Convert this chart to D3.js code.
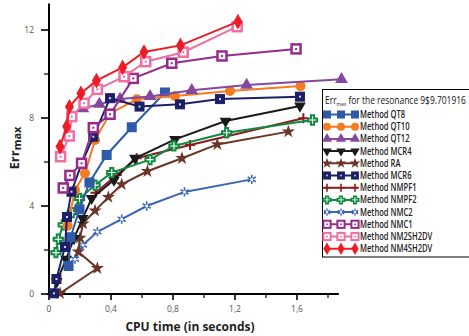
<!DOCTYPE html>
<html>
<head>
<meta charset="utf-8">
<script src="https://cdn.jsdelivr.net/npm/d3@7"></script>
<style>
  body { margin: 0; background: #fff; }
  svg { font-family: "Open Sans", "DejaVu Sans", sans-serif; }
</style>
</head>
<body>
<div id="chart"></div>
<script>
// series data: [CPU time (s), Err max]
const qt8 = [[0.126, 1.27], [0.139, 2.58], [0.197, 3.85], [0.261, 5.07], [0.372, 6.32], [0.534, 7.58], [0.748, 9.16]];
const qt10 = [[0.12, 3.1], [0.168, 4.73], [0.232, 5.49], [0.297, 7.0], [0.394, 8.21], [0.566, 8.85], [0.813, 9.0], [1.168, 9.23], [1.623, 9.45]];
const qt12 = [[0.219, 8.43], [0.325, 8.63], [0.458, 8.86], [0.652, 8.98], [0.921, 9.26], [1.275, 9.5], [1.887, 9.76]];
const mcr4 = [[0.05, 0.56], [0.11, 1.58], [0.161, 2.53], [0.217, 3.44], [0.275, 4.35], [0.419, 5.18], [0.555, 6.17], [0.813, 7.03], [1.139, 7.86], [1.619, 8.55]];
const ra = [[0.071, 0.03], [0.312, 1.17], [0.189, 1.92], [0.2, 2.55], [0.22, 3.2], [0.297, 3.79], [0.383, 4.4], [0.469, 4.98], [0.635, 5.58], [0.858, 6.17], [1.086, 6.8], [1.544, 7.38]];
const mcr6 = [[0.032, 0.03], [0.048, 0.68], [0.103, 2.14], [0.116, 3.5], [0.145, 4.65], [0.211, 5.94], [0.286, 7.15], [0.394, 8.9], [0.584, 8.52], [0.845, 8.62], [1.103, 8.86], [1.619, 8.97]];
const nmpf1 = [[0.3, 4.6], [0.437, 5.41], [0.566, 6.17], [0.91, 6.77], [1.641, 7.99]];
const nmpf2 = [[0.045, 1.88], [0.06, 2.49], [0.092, 3.14], [0.15, 3.7], [0.197, 4.34], [0.297, 4.95], [0.405, 5.52], [0.652, 6.11], [0.806, 6.73], [1.146, 7.33], [1.7, 7.91]];
const nmc2 = [[0.168, 1.58], [0.219, 2.23], [0.312, 2.83], [0.469, 3.4], [0.63, 4.0], [0.874, 4.64], [1.308, 5.21]];
const nmc1 = [[0.092, 4.82], [0.135, 5.39], [0.21, 5.94], [0.286, 7.56], [0.394, 8.17], [0.544, 9.8], [0.792, 10.49], [1.116, 10.82], [1.594, 11.14]];
const nm2sh2dv = [[0.075, 6.24], [0.131, 7.18], [0.147, 8.06], [0.226, 8.67], [0.312, 9.3], [0.484, 9.88], [0.624, 10.56], [0.866, 10.99], [1.214, 12.15]];
const nm4sh2dv = [[0.071, 6.7], [0.114, 7.61], [0.132, 8.51], [0.206, 9.12], [0.306, 9.7], [0.475, 10.3], [0.613, 11.0], [0.848, 11.3], [1.219, 12.38]];

const methodNames = ["Method QT8", "Method QT10", "Method QT12", "Method MCR4", "Method RA", "Method MCR6",
  "Method NMPF1", "Method NMPF2", "Method NMC2", "Method NMC1", "Method NM2SH2DV", "Method NM4SH2DV"];
const xTicks = [0, 0.4, 0.8, 1.2, 1.6];
const xTickLabels = ["0", "0,4", "0,8", "1,2", "1,6"];
const yTicks = [0, 4, 8, 12];

const width = 469, height = 336;

const svg = d3.select("#chart").append("svg")
  .attr("width", width)
  .attr("height", height);

const x = d3.scaleLinear().domain([0, 1.87]).range([49, 338.85]);
const y = d3.scaleLinear().domain([0, 13.2]).range([294, 3.6]);

// series styling, drawn in order (later on top)
const series = [
  { name: methodNames[8], data: nmc2, color: "#3b64b5", mark: "asterisk" },
  { name: methodNames[4], data: ra, color: "#6b3526", mark: "star" },
  { name: methodNames[6], data: nmpf1, color: "#8b1c1c", mark: "plus" },
  { name: methodNames[3], data: mcr4, color: "#1a1a1a", mark: "down" },
  { name: methodNames[7], data: nmpf2, color: "#0f8a3f", mark: "opencross" },
  { name: methodNames[0], data: qt8, color: "#2f5aa8", mark: "square" },
  { name: methodNames[1], data: qt10, color: "#f47b20", mark: "circle" },
  { name: methodNames[2], data: qt12, color: "#8448a0", mark: "triangle" },
  { name: methodNames[5], data: mcr6, color: "#1d1f66", mark: "darksquare" },
  { name: methodNames[9], data: nmc1, color: "#952b8f", mark: "opensquare" },
  { name: methodNames[10], data: nm2sh2dv, color: "#f06ea0", mark: "opensquare" },
  { name: methodNames[11], data: nm4sh2dv, color: "#ee1c25", mark: "diamond" }
];

function drawMark(g, mark, color) {
  if (mark === "square") {
    g.append("rect").attr("x", -5).attr("y", -5).attr("width", 10).attr("height", 10).attr("fill", color);
  } else if (mark === "darksquare") {
    g.append("rect").attr("x", -4.5).attr("y", -4.5).attr("width", 9).attr("height", 9)
      .attr("fill", color).attr("stroke", color).attr("stroke-width", 1);
    g.append("rect").attr("x", -1).attr("y", -1).attr("width", 2).attr("height", 2).attr("fill", "#d8d8e8");
  } else if (mark === "opensquare") {
    g.append("rect").attr("x", -4.5).attr("y", -4.5).attr("width", 9).attr("height", 9)
      .attr("fill", "#fff").attr("stroke", color).attr("stroke-width", 2.5);
    g.append("rect").attr("x", -1).attr("y", -1).attr("width", 2).attr("height", 2).attr("fill", color);
  } else if (mark === "circle") {
    g.append("circle").attr("r", 5).attr("fill", color);
  } else if (mark === "triangle") {
    g.append("path").attr("d", d3.symbol(d3.symbolTriangle, 70)()).attr("fill", color);
  } else if (mark === "down") {
    g.append("path").attr("d", d3.symbol(d3.symbolTriangle, 60)()).attr("transform", "rotate(180)").attr("fill", color);
  } else if (mark === "star") {
    g.append("path").attr("d", d3.symbol(d3.symbolStar, 55)()).attr("fill", color);
  } else if (mark === "diamond") {
    g.append("path").attr("d", d3.symbol(d3.symbolDiamond, 70)()).attr("fill", color);
  } else if (mark === "plus") {
    g.append("path").attr("d", "M-5,0H5M0,-5V5").attr("stroke", color).attr("stroke-width", 2);
  } else if (mark === "opencross") {
    g.append("path").attr("d", d3.symbol(d3.symbolCross, 48)())
      .attr("fill", "#fff").attr("stroke", color).attr("stroke-width", 2);
  } else if (mark === "asterisk") {
    g.append("path").attr("d", d3.symbol(d3.symbolAsterisk, 60)())
      .attr("fill", "none").attr("stroke", color).attr("stroke-width", 1.6);
    g.append("circle").attr("r", 1.5).attr("fill", "#fff");
  }
}

// axes
const xAxis = svg.append("g").attr("transform", "translate(0,294)");
xAxis.append("line").attr("x1", 47).attr("x2", x(1.87)).attr("stroke", "#000").attr("stroke-width", 2);
d3.range(0, 1.81, 0.2).forEach((t, i) => {
  const major = i % 2 === 0;
  xAxis.append("line").attr("x1", x(t)).attr("x2", x(t)).attr("y1", 0).attr("y2", major ? 6 : 4)
    .attr("stroke", "#000").attr("stroke-width", major ? 1.6 : 1.2);
});
xAxis.selectAll("text.tl").data(xTicks).enter().append("text")
  .attr("x", d => x(d)).attr("y", 18).attr("text-anchor", "middle")
  .attr("font-size", 8.5).attr("fill", "#555")
  .text((d, i) => xTickLabels[i]);

const yAxis = svg.append("g").attr("transform", "translate(49,0)");
yAxis.append("line").attr("y1", 295).attr("y2", y(13.2)).attr("stroke", "#000").attr("stroke-width", 2);
d3.range(0, 12.1, 2).forEach((v, i) => {
  const major = i % 2 === 0;
  yAxis.append("line").attr("y1", y(v)).attr("y2", y(v)).attr("x1", 0).attr("x2", major ? -8 : -5)
    .attr("stroke", "#000").attr("stroke-width", major ? 1.6 : 1.2);
});
yAxis.selectAll("text.tl").data(yTicks).enter().append("text")
  .attr("x", -15).attr("y", d => y(d) + 3).attr("text-anchor", "end")
  .attr("font-size", 8.5).attr("fill", "#555")
  .text(d => d);

// axis titles
svg.append("text").attr("x", 190).attr("y", 331).attr("text-anchor", "middle")
  .attr("font-size", 12).attr("font-weight", "bold").attr("fill", "#222")
  .text("CPU time (in seconds)");
const yt = svg.append("text").attr("transform", "translate(19,148) rotate(-90)")
  .attr("text-anchor", "middle").attr("font-weight", "bold").attr("fill", "#222");
yt.append("tspan").attr("font-size", 13).text("Err");
yt.append("tspan").attr("font-size", 11).attr("dy", 2).text("max");

// series
const line = d3.line().x(d => x(d[0])).y(d => y(d[1]));
series.forEach(s => {
  const g = svg.append("g");
  g.append("path").datum(s.data).attr("d", line).attr("fill", "none")
    .attr("stroke", s.color).attr("stroke-width", 2);
  s.data.forEach(d => {
    drawMark(g.append("g").attr("transform", `translate(${x(d[0])},${y(d[1])})`), s.mark, s.color);
  });
});

// legend
const legend = svg.append("g");
legend.append("rect").attr("x", 322.5).attr("y", 89.5).attr("width", 160).attr("height", 167.5)
  .attr("fill", "#fff").attr("stroke", "#000").attr("stroke-width", 1);

// title squeezed to fit the box, like the narrow font of the original
const titleG = legend.append("g");
const lt = titleG.append("text").attr("x", 0).attr("y", 0).attr("font-size", 10.5).attr("fill", "#111");
lt.append("tspan").text("Err");
lt.append("tspan").attr("font-size", 6).attr("dy", 2).text("max");
lt.append("tspan").attr("dy", -2).text(" for the resonance 9$9.701916");
const tw = lt.node().getComputedTextLength();
titleG.attr("transform", `translate(325,104) scale(${Math.min(1, 141 / tw)},1)`);

const legendOrder = [5, 6, 7, 3, 1, 8, 2, 4, 0, 9, 10, 11];
legendOrder.forEach((si, i) => {
  const s = series[si];
  const ly = 114.5 + i * 12.2;
  legend.append("line").attr("x1", 324).attr("x2", 358).attr("y1", ly).attr("y2", ly)
    .attr("stroke", s.color).attr("stroke-width", 2);
  [327, 341, 355].forEach(lx => {
    drawMark(legend.append("g").attr("transform", `translate(${lx},${ly}) scale(0.8)`), s.mark, s.color);
  });
  legend.append("text").attr("transform", `translate(360,${ly + 3.5}) scale(0.76,1)`)
    .attr("font-size", 10).attr("font-weight", 600).attr("fill", "#222")
    .text(s.name);
});
</script>
</body>
</html>
